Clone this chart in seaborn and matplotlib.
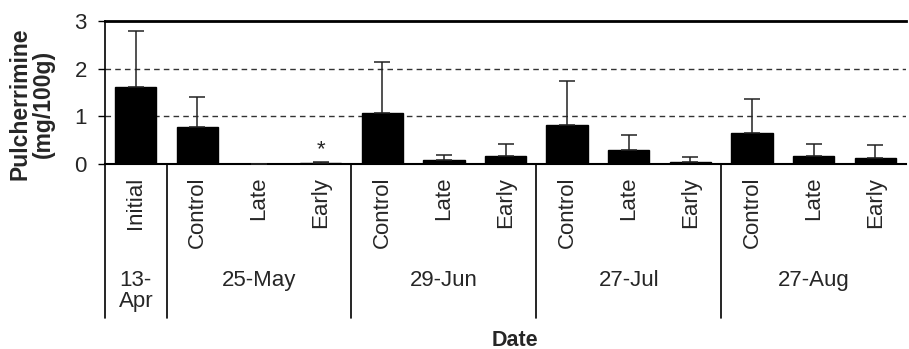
import matplotlib
matplotlib.use("Agg")
import matplotlib.pyplot as plt
import matplotlib.transforms as mtransforms
import seaborn as sns
import pandas as pd
import numpy as np

dates = ["13-\nApr", "25-May", "29-Jun", "27-Jul", "27-Aug"]
date_sizes = [1, 3, 3, 3, 3]
treatments = ["Initial", "Control", "Late", "Early",
              "Control", "Late", "Early",
              "Control", "Late", "Early",
              "Control", "Late", "Early"]
means = [1.61, 0.78, 0.005, 0.03, 1.06, 0.08, 0.17, 0.81, 0.29, 0.05, 0.64, 0.17, 0.13]
upper = [2.79, 1.40, 0.005, 0.04, 2.14, 0.18, 0.41, 1.75, 0.60, 0.15, 1.36, 0.42, 0.39]
marks = ["", "", "", "*", "", "", "", "", "", "", "", "", ""]

sns.set_theme(style="white")
plt.rcParams['font.family'] = ['Liberation Sans', 'DejaVu Sans']

ids = [f"{i}" for i in range(len(treatments))]
df = pd.DataFrame({"id": ids, "value": means})

fig = plt.figure(figsize=(9.09, 3.49), dpi=100)
ax = fig.add_axes([105/909, 1-164/349, (906-105)/909, 143/349])

sns.barplot(data=df, x="id", y="value", order=ids, color="black",
            width=0.67, saturation=1, ax=ax, errorbar=None, zorder=3)
for p in ax.patches:
    p.set_edgecolor("black")

x = np.arange(len(ids))
err = np.array(upper) - np.array(means)
ax.errorbar(x, means, yerr=[np.zeros(len(x)), err], fmt="none",
            ecolor="#222222", elinewidth=1.1, capsize=5.5, capthick=1.1, zorder=4)
for xi, m, u in zip(x, marks, upper):
    if m:
        ax.text(xi, u + 0.03, m, ha="center", va="bottom", fontsize=16)

ax.set_xlim(-0.5, len(ids) - 0.5)
ax.set_ylim(0, 3)
ax.set_yticks([0, 1, 2, 3])
ax.set_yticklabels(["0", "1", "2", "3"], fontsize=16)
for yv in [1, 2]:
    ax.axhline(yv, color="#333333", lw=1, ls=(0, (4, 3)), zorder=1)

ax.spines["right"].set_visible(False)
ax.spines["top"].set_linewidth(2)
ax.spines["top"].set_color("black")
ax.spines["left"].set_color("black")
ax.spines["left"].set_linewidth(1.2)
ax.spines["bottom"].set_color("black")
ax.spines["bottom"].set_linewidth(1.5)
ax.tick_params(axis="y", left=True, length=5, width=1, color="black", pad=8)
ax.tick_params(axis="x", bottom=False, labelbottom=False)

trans = mtransforms.blended_transform_factory(ax.transData, ax.transAxes)
for xi, t in zip(x, treatments):
    ax.text(xi, -13/143, t, rotation=90, ha="center", va="top",
            fontsize=16, transform=trans)
start = -0.5
bounds = [start]
for d, n in zip(dates, date_sizes):
    ax.text(start + n/2, -106/143, d, ha="center", va="top", fontsize=16,
            transform=trans, linespacing=1.0)
    start += n
    bounds.append(start)
for b in bounds[:-1]:
    ax.plot([b, b], [0, -154/143], color="black", lw=1.2, transform=trans,
            clip_on=False)

ax.set_xlabel("")
ax.set_ylabel("")
fig.text(515/909, 1-340/349, "Date", ha="center", va="center",
         fontsize=15.5, fontweight="bold")
fig.text(32/909, 1-104/349, "Pulcherrimine\n(mg/100g)", ha="center",
         va="center", rotation=90, fontsize=16.5, fontweight="bold",
         linespacing=1.0)

fig.savefig("out.png", dpi=100)
